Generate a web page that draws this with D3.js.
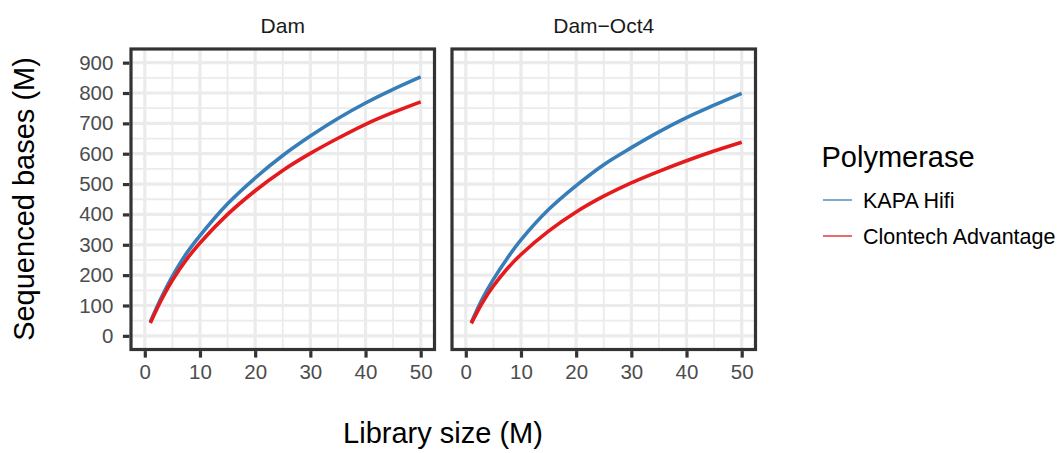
<!DOCTYPE html>
<html>
<head>
<meta charset="utf-8">
<script src="https://cdn.jsdelivr.net/npm/d3@7"></script>
<style>
  html, body { margin: 0; padding: 0; background: #ffffff; }
  svg text { font-family: "Liberation Sans", Arial, Helvetica, sans-serif; }
</style>
</head>
<body>
<svg id="chart" width="1064" height="453"></svg>
<script>
// Library sizes (M reads) at which sequenced bases were evaluated
const libSize = [1, 3, 5, 7.5, 10, 15, 20, 25, 30, 35, 40, 45, 50];

// Sequenced bases (M) per construct and polymerase
const damKapa      = [46, 126, 196, 270, 330, 435, 520, 594, 658, 716, 767, 812, 853];
const damClontech  = [42, 118, 183, 250, 306, 400, 478, 545, 601, 651, 697, 736, 771];
const oct4Kapa     = [44, 122, 186, 255, 316, 416, 495, 564, 620, 672, 719, 760, 799];
const oct4Clontech = [41, 109, 164, 221, 268, 345, 408, 460, 504, 542, 577, 609, 638];

const panelNames = ["Dam", "Dam\u2212Oct4"];
const polymerases = ["KAPA Hifi", "Clontech Advantage"];
const colours = ["#377EB8", "#E41A1C"];

const xTicks = [0, 10, 20, 30, 40, 50];
const yTicks = [0, 100, 200, 300, 400, 500, 600, 700, 800, 900];
const xMinor = [5, 15, 25, 35, 45];
const yMinor = [50, 150, 250, 350, 450, 550, 650, 750, 850];

const panelSeries = [
  [damKapa, damClontech],
  [oct4Kapa, oct4Clontech]
];

const svg = d3.select("#chart");
const panelLefts = [131, 452];
const panelW = 303.5;
const panelTop = 49, panelBottom = 349.5;

const y = d3.scaleLinear().domain([-45, 945]).range([panelBottom, panelTop]);

const tickColor = "#333333";
const labelColor = "#4D4D4D";
const gridColor = "#EBEBEB";

panelNames.forEach((name, pi) => {
  const x0 = panelLefts[pi];
  const x = d3.scaleLinear().domain([-2.5, 52.5]).range([x0, x0 + panelW]);
  const g = svg.append("g");

  // panel background
  g.append("rect").attr("x", x0).attr("y", panelTop)
    .attr("width", panelW).attr("height", panelBottom - panelTop).attr("fill", "#fff");

  // minor grid
  g.selectAll(".vmin").data(xMinor).enter().append("line")
    .attr("x1", d => x(d)).attr("x2", d => x(d)).attr("y1", panelTop).attr("y2", panelBottom)
    .attr("stroke", gridColor).attr("stroke-width", 1.8);
  g.selectAll(".hmin").data(yMinor).enter().append("line")
    .attr("y1", d => y(d)).attr("y2", d => y(d)).attr("x1", x0).attr("x2", x0 + panelW)
    .attr("stroke", gridColor).attr("stroke-width", 1.8);
  // major grid
  g.selectAll(".vmaj").data(xTicks).enter().append("line")
    .attr("x1", d => x(d)).attr("x2", d => x(d)).attr("y1", panelTop).attr("y2", panelBottom)
    .attr("stroke", gridColor).attr("stroke-width", 3.2);
  g.selectAll(".hmaj").data(yTicks).enter().append("line")
    .attr("y1", d => y(d)).attr("y2", d => y(d)).attr("x1", x0).attr("x2", x0 + panelW)
    .attr("stroke", gridColor).attr("stroke-width", 3.2);

  // clip for curves
  const clipId = "clip" + pi;
  svg.append("clipPath").attr("id", clipId).append("rect")
    .attr("x", x0).attr("y", panelTop).attr("width", panelW).attr("height", panelBottom - panelTop);

  const line = d3.line()
    .x((d, i) => x(libSize[i]))
    .y(d => y(d))
    .curve(d3.curveCatmullRom.alpha(0.5));

  panelSeries[pi].forEach((vals, si) => {
    g.append("path").datum(vals)
      .attr("d", line)
      .attr("fill", "none")
      .attr("stroke", colours[si])
      .attr("stroke-width", 3.6)
      .attr("clip-path", `url(#${clipId})`);
  });

  // panel border
  g.append("rect").attr("x", x0).attr("y", panelTop)
    .attr("width", panelW).attr("height", panelBottom - panelTop)
    .attr("fill", "none").attr("stroke", tickColor).attr("stroke-width", 3.2);

  // strip label
  svg.append("text")
    .attr("x", x0 + panelW / 2).attr("y", 33)
    .attr("text-anchor", "middle")
    .attr("font-size", 21).attr("fill", "#1A1A1A")
    .text(name);

  // bottom axis
  const xAxis = d3.axisBottom(x).tickValues(xTicks).tickSizeInner(6.5).tickSizeOuter(0).tickPadding(6.4);
  const xa = svg.append("g").attr("transform", `translate(0,${panelBottom + 1.6})`).call(xAxis);
  xa.select(".domain").remove();
  xa.selectAll(".tick line").attr("stroke", tickColor).attr("stroke-width", 3.2);
  xa.selectAll(".tick text").attr("fill", labelColor).attr("font-size", 20.5)
    .attr("font-family", "Liberation Sans, Arial, sans-serif");

  // left axis only on first panel
  if (pi === 0) {
    const yAxis = d3.axisLeft(y).tickValues(yTicks).tickSizeInner(6.5).tickSizeOuter(0).tickPadding(9.5);
    const ya = svg.append("g").attr("transform", `translate(${x0 - 1.6},0)`).call(yAxis);
    ya.select(".domain").remove();
    ya.selectAll(".tick line").attr("stroke", tickColor).attr("stroke-width", 3.2);
    ya.selectAll(".tick text").attr("fill", labelColor).attr("font-size", 20.5)
      .attr("font-family", "Liberation Sans, Arial, sans-serif");
  }
});

// axis titles
svg.append("text")
  .attr("x", 443).attr("y", 443)
  .attr("text-anchor", "middle")
  .attr("font-size", 29).attr("fill", "#000")
  .text("Library size (M)");

svg.append("text")
  .attr("transform", "translate(33.5,199) rotate(-90)")
  .attr("text-anchor", "middle")
  .attr("font-size", 29).attr("fill", "#000")
  .text("Sequenced bases (M)");

// legend
const legend = svg.append("g");
legend.append("text")
  .attr("x", 821.5).attr("y", 166.5)
  .attr("font-size", 29).attr("fill", "#000")
  .text("Polymerase");

const legendY = [200, 236];
polymerases.forEach((p, i) => {
  legend.append("line")
    .attr("x1", 823).attr("x2", 852)
    .attr("y1", legendY[i]).attr("y2", legendY[i])
    .attr("stroke", colours[i]).attr("stroke-width", 1.3);
  legend.append("text")
    .attr("x", 863).attr("y", legendY[i] + 7.5)
    .attr("font-size", 21.5).attr("fill", "#000")
    .text(p);
});
</script>
</body>
</html>
